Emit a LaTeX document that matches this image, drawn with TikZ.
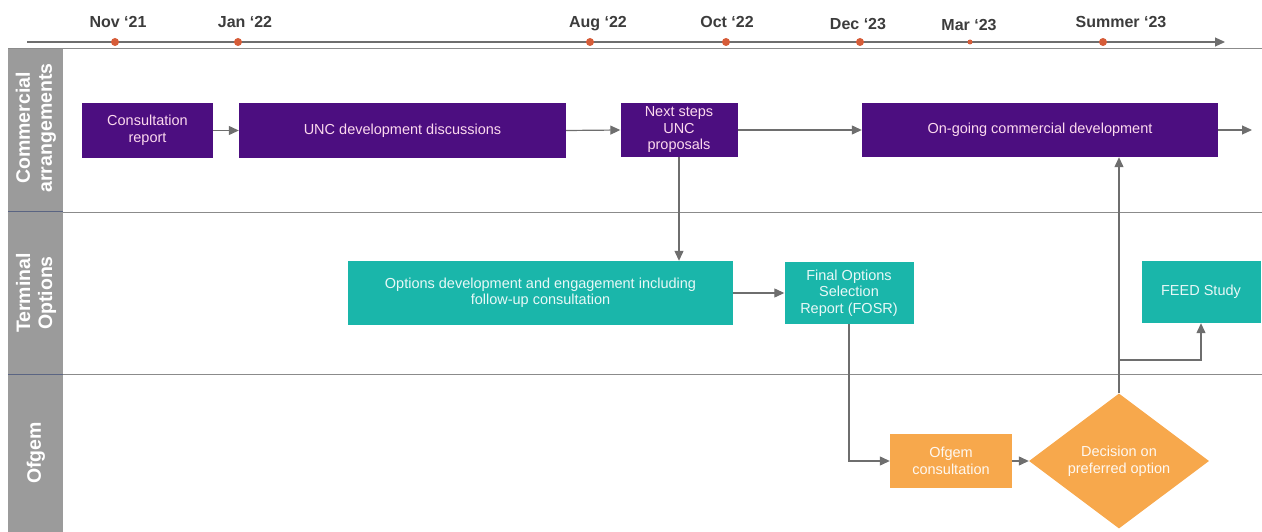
\documentclass[tikz,border=0pt]{standalone}
\usepackage{fontspec}
\setmainfont{Liberation Sans}
\usetikzlibrary{arrows.meta,shapes.geometric}
\definecolor{cpurple}{RGB}{76,14,128}
\definecolor{cteal}{RGB}{26,182,170}
\definecolor{corange}{RGB}{247,168,76}
\definecolor{cheader}{RGB}{155,155,155}
\definecolor{cline}{RGB}{110,110,110}
\definecolor{cdot}{RGB}{214,92,56}
\definecolor{clabel}{RGB}{60,60,60}
\definecolor{cborder}{RGB}{90,100,130}
\tikzset{
  box/.style={rectangle, inner sep=2pt, align=center, font=\fontsize{14.5}{16.5}\selectfont},
  pbox/.style={box, fill=cpurple, text=white!85!magenta},
  tbox/.style={box, fill=cteal, text=white!90!cteal},
  obox/.style={box, fill=corange, text=white!92!corange},
  conn/.style={draw=cline, line width=1.2pt, -{Triangle[length=10pt,width=9pt]}},
  datelbl/.style={font=\bfseries\fontsize{16}{18}\selectfont, text=clabel},
  dot/.style={circle, fill=cdot, inner sep=0pt, minimum size=8pt},
  lanehead/.style={rotate=90, align=center, text=white, font=\bfseries\fontsize{19.5}{22}\selectfont},
  lanesep/.style={draw=cline!80, line width=0.9pt}
}
\begin{document}
\begin{tikzpicture}[x=1pt,y=-1pt]
\useasboundingbox (0,0) rectangle (1262,532);
% timeline
\coordinate (tl0) at (27,42);
\coordinate (tl1) at (1225,42);
\draw[conn] (tl0) -- (tl1);
\node[dot] (d1) at (115,42) {};
\node[dot] (d2) at (238,42) {};
\node[dot] (d3) at (590,42) {};
\node[dot] (d4) at (726,42) {};
\node[dot] (d5) at (860,42) {};
\node[dot, minimum size=5pt] (d6) at (970,42) {};
\node[dot] (d7) at (1103,42) {};
\node[datelbl] (l1) at (118,22) {Nov ‘21};
\node[datelbl] (l2) at (245,22) {Jan ‘22};
\node[datelbl] (l3) at (598,24) {Aug ‘22};
\node[datelbl] (l4) at (727,22) {Oct ‘22};
\node[datelbl] (l5) at (858,24) {Dec ‘23};
\node[datelbl] (l6) at (969,25) {Mar ‘23};
\node[datelbl] (l7) at (1121,22) {Summer ‘23};
% lanes
\fill[cheader] (8,48) rectangle (63,532);
\draw[lanesep] (8,48) -- (1262,48);
\draw[lanesep] (63,212) -- (1262,212);
\draw[lanesep] (63,374) -- (1262,374);
\draw[draw=cborder, line width=1pt] (8,212) -- (63,212);
\draw[draw=cborder, line width=1pt] (8,374) -- (63,374);
\node[lanehead] (h1) at (36,128) {Commercial\\arrangements};
\node[lanehead] (h2) at (36,293) {Terminal\\Options};
\node[lanehead] (h3) at (36,453) {Ofgem};
% boxes
\node[pbox, minimum width=131pt, minimum height=55pt] (cons) at (147.5,130.5) {Consultation\\report};
\node[pbox, minimum width=327pt, minimum height=55pt] (unc) at (402.5,130.5) {UNC development  discussions};
\node[pbox, minimum width=117pt, minimum height=54pt] (next) at (679,130) {Next steps\\UNC\\proposals};
\node[pbox, minimum width=356pt, minimum height=54pt] (ongo) at (1040,130) {On-going  commercial development};
\node[tbox, minimum width=385pt, minimum height=64pt] (opt) at (540.5,293) {Options development  and engagement  including\\follow-up  consultation};
\node[tbox, minimum width=129pt, minimum height=62pt] (fosr) at (849,293) {Final Options\\Selection\\Report  (FOSR)};
\node[tbox, minimum width=119pt, minimum height=62pt] (feed) at (1201,292) {FEED Study};
\node[obox, minimum width=122pt, minimum height=54pt] (ofc) at (951,461) {Ofgem\\consultation};
\node[obox, shape=diamond, aspect=1.33, inner sep=0pt, minimum width=180pt, minimum height=135pt] (dec) at (1119,461) {Decision  on\\preferred option};
% connectors
\coordinate (ongoout) at (1252,130);
\coordinate (br) at (1119,360);
\draw[conn] (cons.east) -- (unc.west);
\draw[conn] (unc.east) -- (next.west);
\draw[conn] (next.east) -- (ongo.west);
\draw[conn] (ongo.east) -- (ongoout);
\draw[conn] (next.south) -- (next.south |- opt.north);
\draw[conn] (opt.east) -- (fosr.west);
\draw[conn] (fosr.south) |- (ofc.west);
\draw[conn] (ofc.east) -- (dec.west);
\draw[conn] (dec.north) -- (dec.north |- ongo.south);
\draw[conn] (br) -| (feed.south);
\end{tikzpicture}
\end{document}
